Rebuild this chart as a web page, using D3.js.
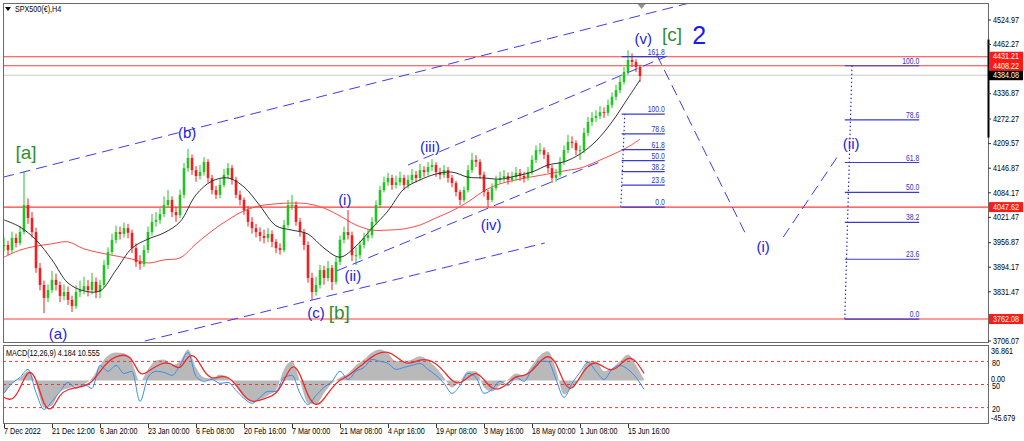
<!DOCTYPE html>
<html><head><meta charset="utf-8">
<script src="https://cdn.jsdelivr.net/npm/d3@7"></script>
<style>
body{margin:0;background:#fff;}
svg{display:block;}
.ax{font-family:"Liberation Sans",Arial,sans-serif;font-size:9px;fill:#000;}
.wave{font-family:"Liberation Sans",Arial,sans-serif;}
</style>
</head><body>
<svg id="c" width="1024" height="441"></svg>
<script>
// ---------- DATA ----------
const title = "SPX500(€),H4";
const macdTitle = "MACD(12,26,9) 4.184 10.555";
const barsPerCandle = 5;           // each drawn candle aggregates 5 H4 bars
const closes = [3951,3938,3969,3956,3984,4053,4020,3984,3892,3849,
 3816,3836,3862,3849,3821,3831,3811,3795,3831,3836,
 3846,3836,3857,3831,3849,3900,3933,3964,3984,3979,
 3994,3982,3943,3908,3902,3938,3984,4010,4015,4030,
 4053,4066,4035,4027,4079,4147,4173,4142,4127,4137,
 4163,4122,4091,4079,4104,4130,4147,4117,4079,4066,
 4040,4010,3994,3984,3974,3969,3979,3959,3943,3938,
 4002,4053,4053,4010,3984,3951,3867,3831,3849,3887,
 3867,3892,3857,3908,3964,3984,3976,3925,3925,3951,
 3969,3976,4010,4053,4091,4111,4122,4104,4111,4122,
 4104,4117,4130,4122,4142,4137,4150,4155,4137,4130,
 4142,4122,4109,4086,4066,4091,4142,4168,4163,4130,
 4086,4066,4096,4117,4122,4127,4117,4124,4135,4127,
 4122,4137,4168,4193,4193,4181,4147,4122,4130,4163,
 4193,4214,4211,4193,4193,4237,4265,4275,4280,4290,
 4288,4308,4329,4346,4367,4392,4423,4418,4405,4382];
const highs = [3970,3962,3985,3980,4000,4137,4070,4035,3995,3905,
 3860,3850,3885,3878,3858,3850,3845,3822,3848,3860,
 3870,3862,3880,3868,3862,3912,3945,3980,4000,3998,
 4008,4005,3990,3955,3925,3950,3998,4030,4035,4045,
 4075,4091,4075,4048,4092,4160,4196,4182,4152,4155,
 4175,4170,4130,4102,4120,4145,4160,4155,4125,4090,
 4072,4050,4022,4005,3996,3990,3994,3988,3966,3955,
 4015,4066,4079,4062,4020,3992,3960,3880,3870,3900,
 3898,3910,3900,3920,3975,3998,4040,3985,3945,3962,
 3982,3992,4022,4065,4102,4125,4135,4130,4128,4138,
 4130,4130,4145,4140,4158,4152,4162,4170,4162,4148,
 4155,4150,4130,4115,4092,4100,4155,4186,4180,4170,
 4138,4092,4108,4128,4138,4142,4136,4138,4150,4145,
 4138,4150,4180,4205,4211,4200,4188,4155,4145,4175,
 4205,4232,4228,4218,4205,4250,4278,4290,4295,4305,
 4302,4322,4340,4360,4380,4405,4448,4440,4425,4410];
const lows = [3935,3925,3930,3945,3950,3978,4005,3970,3880,3835,
 3777,3805,3828,3835,3805,3810,3798,3780,3788,3818,
 3825,3820,3825,3815,3815,3842,3890,3925,3955,3965,
 3970,3968,3930,3895,3888,3895,3930,3975,3998,4005,
 4022,4045,4022,4010,4020,4070,4138,4130,4112,4118,
 4128,4110,4080,4068,4070,4098,4120,4105,4070,4052,
 4028,3998,3980,3970,3960,3955,3958,3945,3930,3926,
 3932,3995,4040,4000,3972,3938,3855,3811,3822,3840,
 3850,3858,3836,3850,3900,3955,3965,3910,3900,3915,
 3942,3960,3968,4002,4045,4085,4102,4092,4095,4102,
 4092,4095,4108,4110,4115,4125,4128,4140,4125,4118,
 4122,4110,4098,4075,4053,4060,4085,4135,4150,4120,
 4075,4048,4060,4090,4108,4112,4105,4110,4115,4115,
 4110,4115,4130,4160,4182,4170,4135,4109,4112,4125,
 4155,4185,4198,4180,4168,4185,4228,4255,4265,4272,
 4275,4280,4300,4320,4338,4360,4385,4405,4392,4367];
// moving averages sampled every 4 candles (+ last candle)
const maBlack = [4015,3997,3964,3913,3854,3834,3834,3887,3943,3966,
 3982,4010,4079,4114,4122,4099,4051,4000,3989,3979,
 3943,3920,3948,3994,4038,4094,4117,4132,4137,4124,
 4122,4119,4127,4137,4155,4163,4183,4216,4265,4326,4372];
const maRed = [3920,3938,3948,3954,3959,3941,3931,3923,3915,3905,
 3913,3918,3954,3987,4015,4038,4051,4056,4058,4056,
 4045,4025,4002,3989,3989,3992,4002,4020,4038,4061,
 4089,4107,4117,4125,4132,4140,4147,4163,4181,4201,4221];
// MACD panel, sampled every 2 candles
const macdSignal = [-18.2,-22.5,-9.7,12.9,4.3,-29.0,-33.2,-13.9,-9.7,-7.5,
 -6.4,-2.2,9.7,20.4,25.8,27.8,24.6,3.2,9.7,15.0,
 19.3,18.2,9.7,27.8,26.8,8.6,1.0,4.3,4.3,-4.3,
 -17.1,-23.6,-21.4,-18.2,-15.0,-1.0,19.3,8.6,-18.2,-29.0,
 -20.4,-7.5,1.0,4.3,11.8,18.2,25.8,30.0,31.1,25.8,
 18.2,18.2,22.5,22.5,18.2,9.7,-1.0,-4.3,3.2,9.7,
 1.0,-9.7,-9.7,-3.2,5.4,4.3,9.7,20.4,27.8,20.4,
 -4.3,-11.8,4.3,16.1,20.4,13.9,9.7,16.1,25.8,21.4,
 7.5];
const macdHist = [-13.9,-3.2,2.2,9.7,-4.3,-29.0,-26.8,-11.8,-8.6,-6.4,
 -4.3,2.2,16.1,26.8,30.0,29.0,19.3,-1.0,11.8,21.4,
 22.5,16.1,20.4,33.2,13.9,3.2,2.2,6.4,3.2,-6.4,
 -18.2,-22.5,-20.4,-16.1,-10.7,11.8,20.4,-1.0,-24.6,-25.8,
 -13.9,-3.2,3.2,7.5,16.1,22.5,30.0,33.2,29.0,20.4,
 20.4,22.5,25.8,21.4,13.9,3.2,-7.5,-1.0,9.7,9.7,
 -7.5,-11.8,-5.4,1.0,7.5,5.4,16.1,26.8,31.1,11.8,
 -15.0,-7.5,3.2,20.4,20.4,9.7,12.9,20.4,27.8,16.1,
 1.0];
const macdFast = [-13.9,-3.2,3.2,11.8,-12.9,-31.1,-22.5,-11.8,-2.2,-8.6,
 -4.3,-8.6,16.1,9.7,16.1,7.5,9.7,-22.5,3.2,9.7,
 8.6,5.4,16.1,30.0,4.3,-1.0,1.0,-3.2,-2.2,-10.7,
 -19.3,-24.6,-18.2,-11.8,-11.8,3.2,5.4,-13.9,-25.8,-16.1,
 -7.5,-1.0,9.7,1.0,9.7,13.9,22.5,20.4,18.2,11.8,
 13.9,16.1,18.2,11.8,5.4,-3.2,-13.9,-5.4,7.5,3.2,
 -13.9,-9.7,-1.0,-5.4,3.2,-1.0,11.8,20.4,20.4,1.0,
 -18.2,-3.2,8.6,19.3,9.7,1.0,11.8,16.1,11.8,3.2,
 -9.7];
const macdMax = 36.861, macdMin = -45.679;
const macdLevels = [80, 50, 20];
const priceTicks = [4524.97,4462.27,4399.57,4336.87,4272.27,4209.57,4146.87,4084.17,4021.47,3956.87,3894.17,3831.47,3706.07];
const timeLabels = ["7 Dec 2022","21 Dec 12:00","6 Jan 20:00","23 Jan 00:00","6 Feb 08:00","20 Feb 16:00","7 Mar 00:00","21 Mar 08:00","4 Apr 16:00","19 Apr 08:00","3 May 16:00","18 May 00:00","1 Jun 08:00","15 Jun 16:00"];
const timeLabelStep = 60; // bars between labels
const redLevels = [4431.21, 4408.22, 4047.62, 3762.08];
const lastPrice = 4384.08;
// trend / channel lines: [bar, price] pairs
const trendLines = [
  [[-1,4124],[866,4573]],
  [[176,3706],[676,3956]],
  [[505,4155],[829,4433]],
  [[416,3885],[745,4163]],
  [[816,4436],[929,3971]],
  [[974,3971],[1045,4186]]
];
const fibs = [
  {low:4047.62, high:4285, barL:771, barH:776, from:772, to:826, levels:[0,23.6,38.2,50,61.8,78.6,100,161.8]},
  {low:3762.08, high:4408.22, barL:1051, barH:1060, from:1051, to:1144, levels:[0,23.6,38.2,50,61.8,78.6,100]}
];
const waveLabels = [
  {t:"[a]",bar:27.5,p:4186,c:"#2f8f2f",s:19},
  {t:"(a)",bar:67.5,p:3724,c:"#2323e0",s:15},
  {t:"(b)",bar:229,p:4237,c:"#2323e0",s:15},
  {t:"(c)",bar:390,p:3780,c:"#2323e0",s:15},
  {t:"[b]",bar:419,p:3780,c:"#2f8f2f",s:19},
  {t:"(i)",bar:426,p:4068,c:"#2323e0",s:15},
  {t:"(ii)",bar:436,p:3874,c:"#2323e0",s:15},
  {t:"(iii)",bar:532.5,p:4201,c:"#2323e0",s:15},
  {t:"(iv)",bar:609,p:4002,c:"#2323e0",s:15},
  {t:"(v)",bar:799,p:4479,c:"#2323e0",s:15},
  {t:"[c]",bar:835,p:4487,c:"#2f8f2f",s:19},
  {t:"2",bar:869,p:4487,c:"#1a1aee",s:25},
  {t:"(i)",bar:949,p:3948,c:"#2323e0",s:15},
  {t:"(ii)",bar:1059,p:4211,c:"#2323e0",s:15}
];

// ---------- LAYOUT ----------
const L = 3, R = 988, T = 3, MB = 342, MT2 = 346, MB2 = 423;
const SX = 0.8; // horizontal squeeze for the small axis font
const svg = d3.select("#c");
const x = d3.scaleLinear().domain([0,1230]).range([4, R]);
const y = d3.scaleLinear().domain([3703.5, 4568.3]).range([MB, T]);
const ym = d3.scaleLinear().domain([macdMin, macdMax]).range([MB2, MT2]);
const yl = d3.scaleLinear().domain([0,100]).range([MB2, MT2]);
function place(sel, fx, fy){ return sel.attr("transform",(d,i)=>`translate(${fx(d,i)},${fy(d,i)}) scale(${SX},1)`); }

const defs = svg.append("defs");
defs.append("clipPath").attr("id","cm").append("rect").attr("x",L).attr("y",T).attr("width",R-L).attr("height",MB-T);
defs.append("clipPath").attr("id","cd").append("rect").attr("x",L).attr("y",MT2-1).attr("width",R-L).attr("height",MB2-MT2+1);

const gm = svg.append("g").attr("clip-path","url(#cm)");

// horizontal levels
gm.append("line").attr("x1",L).attr("x2",R).attr("y1",y(lastPrice)).attr("y2",y(lastPrice)).attr("stroke","#c8c8c8");
gm.selectAll("line.rl").data(redLevels).join("line").attr("class","rl")
  .attr("x1",L).attr("x2",R).attr("y1",d=>y(d)).attr("y2",d=>y(d)).attr("stroke","#ff3b3b").attr("stroke-width",1.1);

// moving averages
const maIdx = d3.range(0, closes.length, 4); if (maIdx[maIdx.length-1] !== closes.length-1) maIdx.push(closes.length-1);
const lineMA = d3.line().curve(d3.curveCatmullRom).x((d,i)=>x(maIdx[i]*barsPerCandle)).y(d=>y(d));
gm.append("path").attr("d",lineMA(maRed)).attr("fill","none").attr("stroke","#ff4a4a").attr("stroke-width",1);

// candles
const cd = closes.map((c,i)=>({o: i? closes[i-1] : c, c, h: highs[i], l: lows[i], b: i*barsPerCandle}));
const gc = gm.append("g");
gc.selectAll("line").data(cd).join("line")
  .attr("x1",d=>x(d.b)).attr("x2",d=>x(d.b)).attr("y1",d=>y(d.h)).attr("y2",d=>y(d.l))
  .attr("stroke",d=>d.c>=d.o?"#22c322":"#f02020").attr("stroke-width",1);
gc.selectAll("rect").data(cd).join("rect")
  .attr("x",d=>x(d.b)-1.3).attr("width",2.6)
  .attr("y",d=>y(Math.max(d.o,d.c))).attr("height",d=>Math.max(1,Math.abs(y(d.o)-y(d.c))))
  .attr("fill",d=>d.c>=d.o?"#22c322":"#f02020");

gm.append("path").attr("d",lineMA(maBlack)).attr("fill","none").attr("stroke","#333").attr("stroke-width",1);

// trend lines
gm.selectAll("line.tl").data(trendLines).join("line").attr("class","tl")
  .attr("x1",d=>x(d[0][0])).attr("y1",d=>y(d[0][1])).attr("x2",d=>x(d[1][0])).attr("y2",d=>y(d[1][1]))
  .attr("stroke","#3c3cf0").attr("stroke-width",1).attr("stroke-dasharray","11,6");

// fibonacci
fibs.forEach(f=>{
  const pr = l => f.low + (f.high-f.low)*l/100;
  gm.append("line").attr("x1",x(f.barL)).attr("y1",y(f.low)).attr("x2",x(f.barH)).attr("y2",y(f.high))
    .attr("stroke","#3030d8").attr("stroke-dasharray","1.5,2.5").attr("stroke-width",1.2);
  gm.selectAll(null).data(f.levels).join("line")
    .attr("x1",x(f.from)).attr("x2",x(f.to)).attr("y1",l=>y(pr(l))).attr("y2",l=>y(pr(l)))
    .attr("stroke","#3a3ad0").attr("stroke-width",1.2);
  place(gm.selectAll(null).data(f.levels).join("text"), ()=>x(f.to), l=>y(pr(l))-2)
    .attr("text-anchor","end").attr("class","ax").style("font-size","8.5px").style("fill","#3030c8").text(l=>l.toFixed(1));
});

// wave labels
svg.append("g").selectAll("text").data(waveLabels).join("text").attr("class","wave")
  .attr("x",d=>x(d.bar)).attr("y",d=>y(d.p)).attr("text-anchor","middle").attr("dominant-baseline","central")
  .style("font-size",d=>d.s+"px").style("fill",d=>d.c).text(d=>d.t);

// ---------- MACD ----------
const gd = svg.append("g").attr("clip-path","url(#cd)");
const mIdx = (i)=> i*2*barsPerCandle;
gd.append("path").attr("d", d3.area().curve(d3.curveMonotoneX).x((d,i)=>x(mIdx(i))).y0(ym(0)).y1(d=>ym(d))(macdHist))
  .attr("fill","#b9b9b9");
gd.selectAll("line.lv").data(macdLevels).join("line").attr("class","lv")
  .attr("x1",L).attr("x2",R).attr("y1",d=>yl(d)).attr("y2",d=>yl(d))
  .attr("stroke","#ff3030").attr("stroke-dasharray","3,3").attr("stroke-width",1);
gd.append("path").attr("d", d3.line().curve(d3.curveMonotoneX).x((d,i)=>x(mIdx(i))).y(d=>ym(d))(macdFast))
  .attr("fill","none").attr("stroke","#3b8ff0").attr("stroke-width",1);
gd.append("path").attr("d", d3.line().curve(d3.curveBasis).x((d,i)=>x(mIdx(i))).y(d=>ym(d))(macdSignal))
  .attr("fill","none").attr("stroke","#f02a2a").attr("stroke-width",1.3);

// ---------- FRAMES ----------
svg.append("rect").attr("x",L+0.5).attr("y",T+0.5).attr("width",R-L).attr("height",MB-T).attr("fill","none").attr("stroke","#6a6a6a");
svg.append("rect").attr("x",L+0.5).attr("y",MT2-0.5).attr("width",R-L).attr("height",MB2-MT2+1).attr("fill","none").attr("stroke","#6a6a6a");
svg.append("line").attr("x1",R+0.5).attr("x2",R+0.5).attr("y1",y(4475)).attr("y2",y(4225)).attr("stroke","#000").attr("stroke-width",2);

// price axis
const ga = svg.append("g");
ga.selectAll("line").data(priceTicks).join("line").attr("x1",R).attr("x2",R+3).attr("y1",d=>y(d)).attr("y2",d=>y(d)).attr("stroke","#333");
place(ga.selectAll("text").data(priceTicks).join("text"), ()=>R+5, d=>y(d)).attr("class","ax").attr("dominant-baseline","central").text(d=>d.toFixed(2));
const boxes = [{p:lastPrice,c:"#000"}].concat(redLevels.map(p=>({p,c:"#ff1a1a"})));
const gb = svg.append("g");
gb.selectAll("rect").data(boxes).join("rect").attr("x",R+1).attr("y",d=>y(d.p)-5).attr("width",34).attr("height",10).attr("fill",d=>d.c);
place(gb.selectAll("text").data(boxes).join("text"), ()=>R+5, d=>y(d.p)).attr("class","ax").attr("dominant-baseline","central").style("fill","#fff").text(d=>d.p.toFixed(2));

// MACD axis
const gma = svg.append("g");
const macdAxis = [{v:macdMax, yy:ym(macdMax)+5, t:macdMax.toFixed(3)},{v:0, yy:ym(0)-1, t:"0.00"},{v:macdMin, yy:ym(macdMin)-5, t:macdMin.toFixed(3)}];
place(gma.selectAll("text.m").data(macdAxis).join("text"), ()=>R+3, d=>d.yy).attr("class","ax m").attr("dominant-baseline","central").text(d=>d.t);
place(gma.selectAll("text.lv").data(macdLevels).join("text"), ()=>R+4, d=>yl(d)+1.5).attr("class","ax lv").attr("dominant-baseline","central").text(d=>d);

// time axis
const gt = svg.append("g");
gt.selectAll("line").data(timeLabels).join("line").attr("x1",(d,i)=>x(i*timeLabelStep)+0.5).attr("x2",(d,i)=>x(i*timeLabelStep)+0.5)
  .attr("y1",MB2+1).attr("y2",MB2+5).attr("stroke","#333");
place(gt.selectAll("text").data(timeLabels).join("text"), (d,i)=>x(i*timeLabelStep), ()=>434).attr("class","ax").text(d=>d);

// titles
place(svg.append("text").datum(0), ()=>15, ()=>12).attr("class","ax").text(title);
svg.append("path").attr("d","M5,7 L11,7 L8,11 Z").attr("fill","#000");
place(svg.append("text").datum(0), ()=>6, ()=>356).attr("class","ax").text(macdTitle);
svg.append("path").attr("d",`M${x(797)-4},${T+1} L${x(797)+4},${T+1} L${x(797)},${T+6} Z`).attr("fill","#909090");
</script>
</body></html>
